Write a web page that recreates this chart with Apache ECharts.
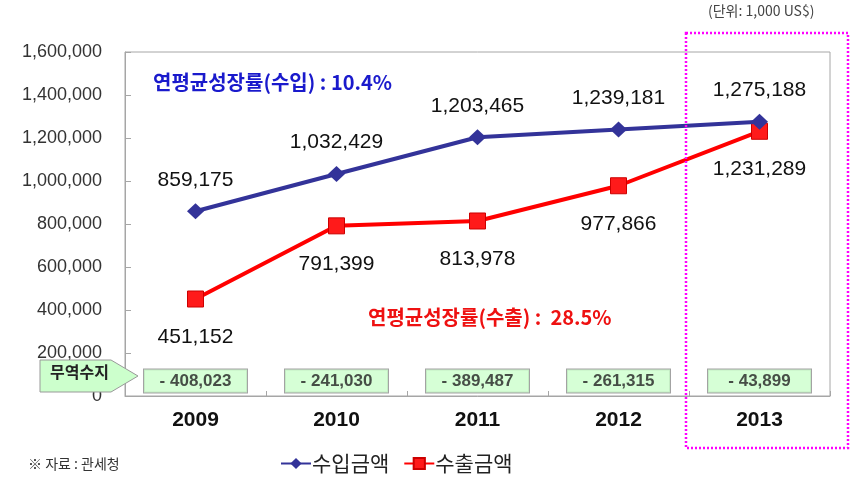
<!DOCTYPE html>
<html>
<head>
<meta charset="utf-8">
<script src="https://cdn.jsdelivr.net/npm/echarts@6/dist/echarts.min.js"></script>
<style>
  html, body { margin: 0; padding: 0; background: #fff; }
  #chart { width: 855px; height: 478px; }
</style>
</head>
<body>
<div id="chart"></div>
<script>
const years = ['2009', '2010', '2011', '2012', '2013']
const importValues = [859175, 1032429, 1203465, 1239181, 1275188]
const exportValues = [451152, 791399, 813978, 977866, 1231289]
const tradeBalance = [-408023, -241030, -389487, -261315, -43899]
const balanceRowY = 70000
const font = '"Noto Sans CJK KR", "Noto Sans", sans-serif'
const numFont = '"Liberation Sans", Arial, sans-serif'

const fmt = v => v.toLocaleString('en-US')

const chart = echarts.init(document.getElementById('chart'))

const option = {
  backgroundColor: '#fff',
  textStyle: { fontFamily: font },
  animation: false,
  grid: {
    left: 125,
    right: 25,
    top: 52,
    bottom: 82,
    show: true,
    borderColor: '#a6a6a6',
    borderWidth: 1
  },
  legend: {
    top: 448,
    left: 275,
    itemWidth: 30,
    itemHeight: 14,
    itemGap: 14,
    textStyle: { fontSize: 21, color: '#222', fontFamily: font, padding: [0, 0, 0, -4] },
    data: ['수입금액', '수출금액']
  },
  xAxis: {
    type: 'category',
    data: years,
    axisLine: { lineStyle: { color: '#a6a6a6' } },
    axisTick: { show: true, inside: true, length: 5, lineStyle: { color: '#a6a6a6' } },
    axisLabel: { fontSize: 21, fontWeight: 'bold', color: '#111', margin: 14, fontFamily: numFont },
    splitLine: { show: false }
  },
  yAxis: {
    type: 'value',
    min: 0,
    max: 1600000,
    interval: 200000,
    axisLine: { show: true, lineStyle: { color: '#a6a6a6' } },
    axisTick: { show: true, inside: true, length: 6, lineStyle: { color: '#a6a6a6' } },
    axisLabel: { fontSize: 18, color: '#333', margin: 23, fontFamily: numFont, formatter: v => fmt(v) },
    splitLine: { show: false }
  },
  series: [
    {
      name: '수입금액',
      type: 'line',
      data: importValues,
      symbol: 'diamond',
      symbolSize: [17, 16],
      lineStyle: { color: '#333399', width: 4 },
      itemStyle: { color: '#333399' },
      label: {
        show: true,
        position: 'top',
        distance: 13,
        fontSize: 21,
        color: '#111',
        fontFamily: numFont,
        formatter: p => fmt(p.value)
      },
      z: 4
    },
    {
      name: '수출금액',
      type: 'line',
      data: exportValues,
      symbol: 'rect',
      symbolSize: 16,
      lineStyle: { color: '#ff0000', width: 4 },
      itemStyle: { color: '#ff1a1a', borderColor: '#cc0000', borderWidth: 1 },
      label: {
        show: true,
        position: 'bottom',
        distance: 19,
        fontSize: 21,
        color: '#111',
        fontFamily: numFont,
        formatter: p => fmt(p.value)
      },
      z: 3
    },
    {
      name: '무역수지',
      type: 'scatter',
      data: tradeBalance.map((v, i) => [i, balanceRowY, v]),
      symbolSize: 0,
      silent: true,
      label: {
        show: true,
        position: 'inside',
        formatter: p => '- ' + fmt(Math.abs(p.value[2])),
        fontSize: 17,
        fontWeight: 'bold',
        fontFamily: numFont,
        color: '#222',
        backgroundColor: '#ccffcc',
        borderColor: '#8c8c8c',
        borderWidth: 1,
        width: 99,
        align: 'center',
        padding: [3, 2, 3, 2]
      },
      z: 5
    }
  ],
  graphic: [
    {
      type: 'text',
      left: 153,
      top: 72,
      style: {
        text: '연평균성장률(수입) : 10.4%',
        fill: '#1a1acc',
        font: 'bold 20px ' + font
      }
    },
    {
      type: 'text',
      left: 368,
      top: 307,
      style: {
        text: '연평균성장률(수출) :  28.5%',
        fill: '#ee1111',
        font: 'bold 20px ' + font
      }
    },
    {
      type: 'text',
      left: 708,
      top: 4,
      style: {
        text: '(단위: 1,000 US$)',
        fill: '#444',
        font: '14px ' + font
      }
    },
    {
      type: 'text',
      left: 28,
      top: 457,
      style: {
        text: '※ 자료 : 관세청',
        fill: '#333',
        font: '14px ' + font
      }
    },
    {
      type: 'rect',
      shape: { x: 686, y: 33, width: 162, height: 415 },
      style: { fill: 'none', stroke: '#ff00ff', lineWidth: 2.5, lineDash: [2, 2] },
      z: 10
    },
    {
      type: 'polygon',
      shape: { points: [[40, 360], [111, 360], [138, 376], [111, 392], [40, 392]] },
      style: { fill: '#ccffcc', stroke: '#999', lineWidth: 1 },
      z: 10
    },
    {
      type: 'text',
      left: 50,
      top: 364,
      z: 11,
      style: {
        text: '무역수지',
        fill: '#222',
        font: 'bold 16px ' + font
      }
    }
  ]
}

chart.setOption(option)
</script>
</body>
</html>
